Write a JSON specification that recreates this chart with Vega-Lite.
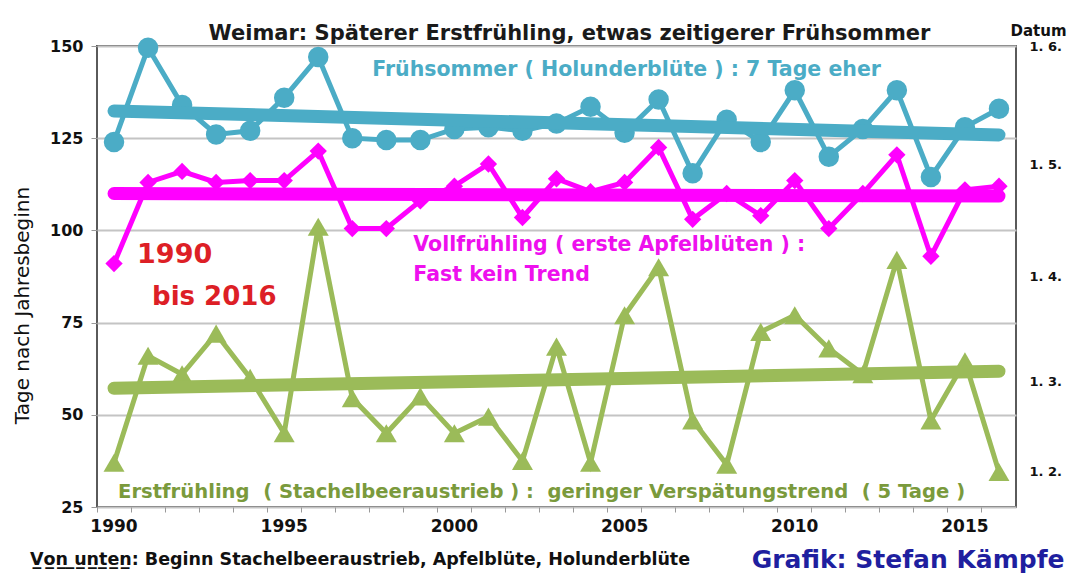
{
  "$schema": "https://vega.github.io/schema/vega-lite/v6.json",
  "width": 919,
  "height": 461,
  "autosize": {"type": "none"},
  "padding": {"left": 97, "top": 46, "right": 58, "bottom": 70},
  "background": "white",
  "config": {
    "font": "DejaVu Sans",
    "view": {"stroke": "#5a5a5a", "strokeWidth": 2}
  },
  "title": {
    "text": "Weimar: Späterer Erstfrühling, etwas zeitigerer Frühsommer",
    "font": "DejaVu Sans",
    "fontSize": 21,
    "fontWeight": "bold",
    "color": "#1a1a1a",
    "anchor": "middle",
    "frame": "group",
    "dx": 13,
    "dy": 25,
    "offset": 4
  },
  "datasets": {
    "obs": [
      {"jahr": 1990, "reihe": "Holunderblüte", "tage": 124},
      {"jahr": 1991, "reihe": "Holunderblüte", "tage": 149.5},
      {"jahr": 1992, "reihe": "Holunderblüte", "tage": 134},
      {"jahr": 1993, "reihe": "Holunderblüte", "tage": 126},
      {"jahr": 1994, "reihe": "Holunderblüte", "tage": 127},
      {"jahr": 1995, "reihe": "Holunderblüte", "tage": 136},
      {"jahr": 1996, "reihe": "Holunderblüte", "tage": 147},
      {"jahr": 1997, "reihe": "Holunderblüte", "tage": 125},
      {"jahr": 1998, "reihe": "Holunderblüte", "tage": 124.5},
      {"jahr": 1999, "reihe": "Holunderblüte", "tage": 124.5},
      {"jahr": 2000, "reihe": "Holunderblüte", "tage": 127.5},
      {"jahr": 2001, "reihe": "Holunderblüte", "tage": 128},
      {"jahr": 2002, "reihe": "Holunderblüte", "tage": 127},
      {"jahr": 2003, "reihe": "Holunderblüte", "tage": 129},
      {"jahr": 2004, "reihe": "Holunderblüte", "tage": 133.5},
      {"jahr": 2005, "reihe": "Holunderblüte", "tage": 126.5},
      {"jahr": 2006, "reihe": "Holunderblüte", "tage": 135.5},
      {"jahr": 2007, "reihe": "Holunderblüte", "tage": 115.5},
      {"jahr": 2008, "reihe": "Holunderblüte", "tage": 130},
      {"jahr": 2009, "reihe": "Holunderblüte", "tage": 124},
      {"jahr": 2010, "reihe": "Holunderblüte", "tage": 138},
      {"jahr": 2011, "reihe": "Holunderblüte", "tage": 120},
      {"jahr": 2012, "reihe": "Holunderblüte", "tage": 127.5},
      {"jahr": 2013, "reihe": "Holunderblüte", "tage": 138},
      {"jahr": 2014, "reihe": "Holunderblüte", "tage": 114.5},
      {"jahr": 2015, "reihe": "Holunderblüte", "tage": 128},
      {"jahr": 2016, "reihe": "Holunderblüte", "tage": 133},
      {"jahr": 1990, "reihe": "Apfelblüte", "tage": 91},
      {"jahr": 1991, "reihe": "Apfelblüte", "tage": 113},
      {"jahr": 1992, "reihe": "Apfelblüte", "tage": 116},
      {"jahr": 1993, "reihe": "Apfelblüte", "tage": 113},
      {"jahr": 1994, "reihe": "Apfelblüte", "tage": 113.5},
      {"jahr": 1995, "reihe": "Apfelblüte", "tage": 113.5},
      {"jahr": 1996, "reihe": "Apfelblüte", "tage": 121.5},
      {"jahr": 1997, "reihe": "Apfelblüte", "tage": 100.5},
      {"jahr": 1998, "reihe": "Apfelblüte", "tage": 100.5},
      {"jahr": 1999, "reihe": "Apfelblüte", "tage": 108},
      {"jahr": 2000, "reihe": "Apfelblüte", "tage": 112},
      {"jahr": 2001, "reihe": "Apfelblüte", "tage": 118},
      {"jahr": 2002, "reihe": "Apfelblüte", "tage": 103.5},
      {"jahr": 2003, "reihe": "Apfelblüte", "tage": 114},
      {"jahr": 2004, "reihe": "Apfelblüte", "tage": 110.5},
      {"jahr": 2005, "reihe": "Apfelblüte", "tage": 113},
      {"jahr": 2006, "reihe": "Apfelblüte", "tage": 122.5},
      {"jahr": 2007, "reihe": "Apfelblüte", "tage": 103},
      {"jahr": 2008, "reihe": "Apfelblüte", "tage": 110},
      {"jahr": 2009, "reihe": "Apfelblüte", "tage": 104},
      {"jahr": 2010, "reihe": "Apfelblüte", "tage": 113.5},
      {"jahr": 2011, "reihe": "Apfelblüte", "tage": 100.5},
      {"jahr": 2012, "reihe": "Apfelblüte", "tage": 110},
      {"jahr": 2013, "reihe": "Apfelblüte", "tage": 120.5},
      {"jahr": 2014, "reihe": "Apfelblüte", "tage": 93},
      {"jahr": 2015, "reihe": "Apfelblüte", "tage": 111},
      {"jahr": 2016, "reihe": "Apfelblüte", "tage": 112},
      {"jahr": 1990, "reihe": "Stachelbeeraustrieb", "tage": 37},
      {"jahr": 1991, "reihe": "Stachelbeeraustrieb", "tage": 66},
      {"jahr": 1992, "reihe": "Stachelbeeraustrieb", "tage": 61},
      {"jahr": 1993, "reihe": "Stachelbeeraustrieb", "tage": 72},
      {"jahr": 1994, "reihe": "Stachelbeeraustrieb", "tage": 60},
      {"jahr": 1995, "reihe": "Stachelbeeraustrieb", "tage": 45},
      {"jahr": 1996, "reihe": "Stachelbeeraustrieb", "tage": 101},
      {"jahr": 1997, "reihe": "Stachelbeeraustrieb", "tage": 54.5},
      {"jahr": 1998, "reihe": "Stachelbeeraustrieb", "tage": 45},
      {"jahr": 1999, "reihe": "Stachelbeeraustrieb", "tage": 55},
      {"jahr": 2000, "reihe": "Stachelbeeraustrieb", "tage": 45},
      {"jahr": 2001, "reihe": "Stachelbeeraustrieb", "tage": 49.5},
      {"jahr": 2002, "reihe": "Stachelbeeraustrieb", "tage": 37.5},
      {"jahr": 2003, "reihe": "Stachelbeeraustrieb", "tage": 68.5},
      {"jahr": 2004, "reihe": "Stachelbeeraustrieb", "tage": 37},
      {"jahr": 2005, "reihe": "Stachelbeeraustrieb", "tage": 77},
      {"jahr": 2006, "reihe": "Stachelbeeraustrieb", "tage": 90},
      {"jahr": 2007, "reihe": "Stachelbeeraustrieb", "tage": 48.5},
      {"jahr": 2008, "reihe": "Stachelbeeraustrieb", "tage": 36.5},
      {"jahr": 2009, "reihe": "Stachelbeeraustrieb", "tage": 72.5},
      {"jahr": 2010, "reihe": "Stachelbeeraustrieb", "tage": 77},
      {"jahr": 2011, "reihe": "Stachelbeeraustrieb", "tage": 68},
      {"jahr": 2012, "reihe": "Stachelbeeraustrieb", "tage": 61},
      {"jahr": 2013, "reihe": "Stachelbeeraustrieb", "tage": 92},
      {"jahr": 2014, "reihe": "Stachelbeeraustrieb", "tage": 48.5},
      {"jahr": 2015, "reihe": "Stachelbeeraustrieb", "tage": 64.5},
      {"jahr": 2016, "reihe": "Stachelbeeraustrieb", "tage": 34.5}
    ],
    "trend": [
      {"jahr": 1990, "reihe": "Holunderblüte", "tage": 132.4},
      {"jahr": 2016, "reihe": "Holunderblüte", "tage": 125.9},
      {"jahr": 1990, "reihe": "Apfelblüte", "tage": 110},
      {"jahr": 2016, "reihe": "Apfelblüte", "tage": 109.3},
      {"jahr": 1990, "reihe": "Stachelbeeraustrieb", "tage": 57.2},
      {"jahr": 2016, "reihe": "Stachelbeeraustrieb", "tage": 61.8}
    ]
  },
  "encoding": {
    "x": {
      "field": "jahr",
      "type": "ordinal",
      "scale": {"type": "band", "paddingInner": 0, "paddingOuter": 0},
      "axis": {
        "title": null,
        "bandPosition": 0,
        "domain": false,
        "grid": false,
        "ticks": true,
        "tickSize": 5,
        "tickColor": "#999999",
        "labelAngle": 0,
        "labelOverlap": false,
        "labelPadding": 6,
        "labelFont": "DejaVu Sans",
        "labelFontWeight": "bold",
        "labelFontSize": 17,
        "labelColor": "#111111",
        "labelExpr": "datum.value % 5 == 0 ? datum.label : ''"
      }
    }
  },
  "layer": [
    {
      "data": {"name": "obs"},
      "mark": {"type": "line", "strokeWidth": 5},
      "encoding": {
        "y": {
          "field": "tage",
          "type": "quantitative",
          "scale": {"domain": [25, 150], "nice": false, "zero": false},
          "axis": {
            "orient": "left",
            "values": [25, 50, 75, 100, 125, 150],
            "domain": false,
            "grid": true,
            "gridColor": "#c4c4c4",
            "gridWidth": 2,
            "tickSize": 6,
            "tickColor": "#999999",
            "labelPadding": 8,
            "labelFont": "DejaVu Sans",
            "labelFontWeight": "bold",
            "labelFontSize": 16,
            "labelColor": "#111111",
            "title": "Tage nach Jahresbeginn",
            "titleFont": "DejaVu Sans",
            "titleFontWeight": "normal",
            "titleFontSize": 20,
            "titleColor": "#111111",
            "titleAngle": -90,
            "titleX": -75,
            "titleY": 259,
            "titleAlign": "center",
            "titleBaseline": "middle"
          }
        },
        "color": {
          "field": "reihe",
          "type": "nominal",
          "scale": {"domain": ["Holunderblüte", "Apfelblüte", "Stachelbeeraustrieb"], "range": ["#4bacc6", "#ff00ff", "#9bbb59"]},
          "legend": null
        }
      }
    },
    {
      "data": {"name": "obs"},
      "transform": [{"filter": "datum.reihe == 'Holunderblüte'"}],
      "mark": {"type": "point", "shape": "circle", "filled": true, "opacity": 1, "size": 420, "color": "#4bacc6"},
      "encoding": {"y": {"field": "tage", "type": "quantitative", "axis": null}}
    },
    {
      "data": {"name": "obs"},
      "transform": [{"filter": "datum.reihe == 'Apfelblüte'"}],
      "mark": {"type": "point", "shape": "diamond", "filled": true, "opacity": 1, "size": 300, "color": "#ff00ff"},
      "encoding": {"y": {"field": "tage", "type": "quantitative", "axis": null}}
    },
    {
      "data": {"name": "obs"},
      "transform": [{"filter": "datum.reihe == 'Stachelbeeraustrieb'"}],
      "mark": {"type": "point", "shape": "triangle-up", "filled": true, "opacity": 1, "size": 440, "color": "#9bbb59"},
      "encoding": {"y": {"field": "tage", "type": "quantitative", "axis": null}}
    },
    {
      "data": {"name": "trend"},
      "mark": {"type": "line", "strokeWidth": 13, "strokeCap": "round"},
      "encoding": {
        "y": {
          "field": "tage",
          "type": "quantitative",
          "axis": {
            "orient": "right",
            "values": [150, 118, 87.5, 59, 34.5],
            "labelExpr": "datum.value >= 140 ? '1. 6.' : datum.value >= 100 ? '1. 5.' : datum.value >= 70 ? '1. 4.' : datum.value >= 45 ? '1. 3.' : '1. 2.'",
            "domain": false,
            "grid": false,
            "ticks": false,
            "tickSize": 0,
            "labelPadding": 13,
            "labelAlign": "left",
            "labelFont": "DejaVu Sans",
            "labelFontWeight": "bold",
            "labelFontSize": 13,
            "labelColor": "#111111",
            "title": "Datum",
            "titleFont": "DejaVu Sans",
            "titleFontWeight": "bold",
            "titleFontSize": 15,
            "titleColor": "#111111",
            "titleAngle": 0,
            "titleX": 22,
            "titleY": -16,
            "titleAlign": "center",
            "titleBaseline": "middle"
          }
        },
        "color": {"field": "reihe", "type": "nominal", "legend": null}
      }
    },
    {
      "data": {"values": [{}]},
      "mark": {"type": "text", "text": "Frühsommer ( Holunderblüte ) : 7 Tage eher", "align": "left", "baseline": "middle", "font": "DejaVu Sans", "fontWeight": "bold", "fontSize": 20.5, "color": "#4bacc6", "dx": -14},
      "encoding": {"x": {"datum": 1998, "type": "ordinal"}, "y": {"datum": 143.5, "type": "quantitative", "axis": null}}
    },
    {
      "data": {"values": [{}]},
      "mark": {"type": "text", "text": "Vollfrühling ( erste Apfelblüten ) :", "align": "left", "baseline": "middle", "font": "DejaVu Sans", "fontWeight": "bold", "fontSize": 20.5, "color": "#ee10ee", "dx": -7},
      "encoding": {"x": {"datum": 1999, "type": "ordinal"}, "y": {"datum": 96, "type": "quantitative", "axis": null}}
    },
    {
      "data": {"values": [{}]},
      "mark": {"type": "text", "text": "Fast kein Trend", "align": "left", "baseline": "middle", "font": "DejaVu Sans", "fontWeight": "bold", "fontSize": 20.5, "color": "#ee10ee", "dx": -7},
      "encoding": {"x": {"datum": 1999, "type": "ordinal"}, "y": {"datum": 88, "type": "quantitative", "axis": null}}
    },
    {
      "data": {"values": [{}]},
      "mark": {"type": "text", "text": "1990", "align": "left", "baseline": "middle", "font": "DejaVu Sans", "fontWeight": "bold", "fontSize": 27, "color": "#dd1f26", "dx": -11},
      "encoding": {"x": {"datum": 1991, "type": "ordinal"}, "y": {"datum": 93.3, "type": "quantitative", "axis": null}}
    },
    {
      "data": {"values": [{}]},
      "mark": {"type": "text", "text": "bis 2016", "align": "left", "baseline": "middle", "font": "DejaVu Sans", "fontWeight": "bold", "fontSize": 26, "color": "#dd1f26", "dx": 4},
      "encoding": {"x": {"datum": 1991, "type": "ordinal"}, "y": {"datum": 81.9, "type": "quantitative", "axis": null}}
    },
    {
      "data": {"values": [{}]},
      "mark": {"type": "text", "text": "Erstfrühling\u00a0 ( Stachelbeeraustrieb ) :\u00a0 geringer Verspätungstrend\u00a0 ( 5 Tage )", "align": "left", "baseline": "middle", "font": "DejaVu Sans", "fontWeight": "bold", "fontSize": 19.6, "color": "#7a9a3c", "dx": 4},
      "encoding": {"x": {"datum": 1990, "type": "ordinal"}, "y": {"datum": 29.1, "type": "quantitative", "axis": null}}
    },
    {
      "data": {"values": [{}]},
      "mark": {"type": "text", "text": "V\u0332o\u0332n\u0332 \u0332u\u0332n\u0332t\u0332e\u0332n\u0332: Beginn Stachelbeeraustrieb, Apfelblüte, Holunderblüte", "align": "left", "baseline": "middle", "font": "DejaVu Sans", "fontWeight": "bold", "fontSize": 17.5, "color": "#111111", "dx": -84},
      "encoding": {"x": {"datum": 1990, "type": "ordinal"}, "y": {"datum": 10.6, "type": "quantitative", "axis": null}}
    },
    {
      "data": {"values": [{}]},
      "mark": {"type": "text", "text": "Grafik: Stefan Kämpfe", "align": "left", "baseline": "middle", "font": "DejaVu Sans", "fontWeight": "bold", "fontSize": 25, "color": "#1f1f9f", "dx": -9},
      "encoding": {"x": {"datum": 2009, "type": "ordinal"}, "y": {"datum": 10.6, "type": "quantitative", "axis": null}}
    }
  ],
  "resolve": {"axis": {"y": "independent"}}
}
